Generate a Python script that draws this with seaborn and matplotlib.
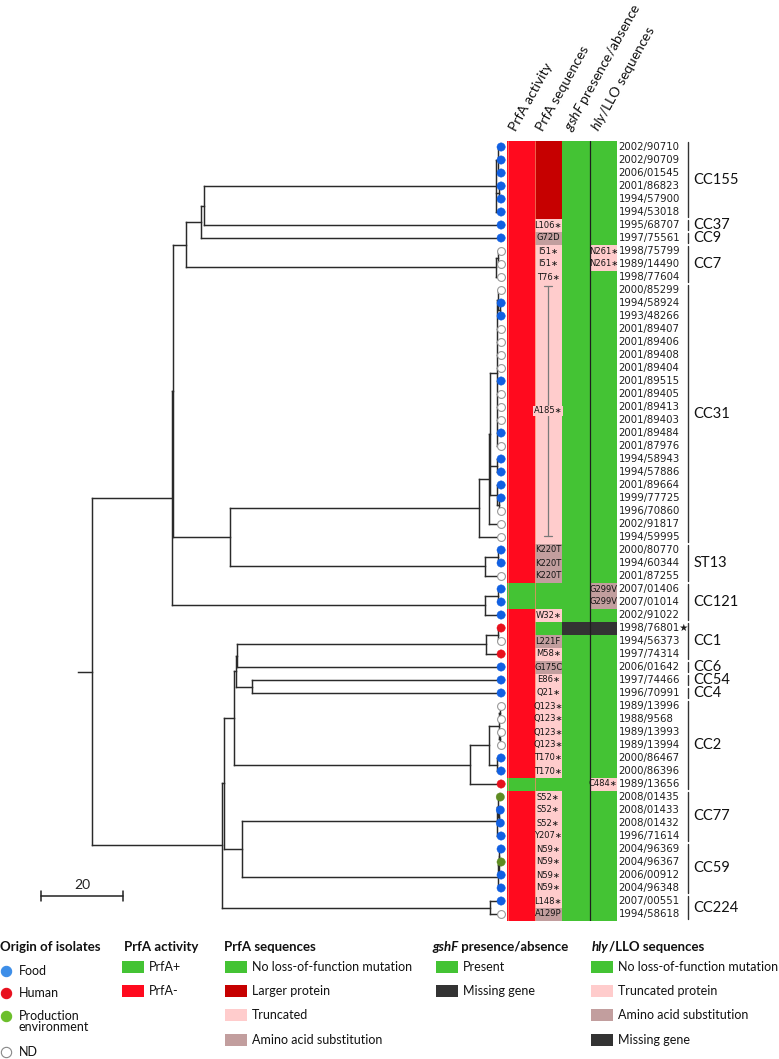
import numpy as np
import pandas as pd
import matplotlib
matplotlib.use("Agg")
import matplotlib.pyplot as plt
import seaborn as sns
from matplotlib.colors import ListedColormap
from matplotlib.collections import LineCollection
from matplotlib.patches import Rectangle

# ------------------------------------------------------------------ data
# Newick clades (branch lengths, scale bar = 20)
cc155 = "((2002/90710:0.7,2002/90709:0.7,2006/01545:0.7):0.5,(2001/86823:0.6,1994/57900:0.6):0.6,1994/53018:1.2)"
cc7 = "((1998/75799:0.7,1989/14490:0.7):0.5,1998/77604:1.2)"
cc31 = ("(((((2000/85299:0.7,(1994/58924:0.3,1993/48266:0.3):0.4):0.3,2001/89407:1.0,2001/89406:1.0,"
        "2001/89408:1.0,2001/89404:1.0,2001/89515:1.0,2001/89405:1.0,2001/89413:1.0,2001/89403:1.0,"
        "2001/89484:1.0,2001/87976:1.0):1.7,(1994/58943:1.0,1994/57886:1.0):1.7,"
        "(2001/89664:1.0,(1999/77725:0.5,1996/70860:0.5):0.5):1.7):0.3,2002/91817:3.0):2.4,1994/59995:5.4)")
st13 = "((2000/80770:0.8,1994/60344:0.8):3.1,2001/87255:3.9)"
cc121 = "((2007/01406:0.8,2007/01014:0.8):3.1,2002/91022:3.9)"
cc1 = "((1998/76801:0.8,1994/56373:0.8):2.9,1997/74314:3.7)"
cc54_4 = "(1997/74466:60.8,1996/70991:60.8)"
cc2 = ("((((1989/13996:0.3,1988/9568:0.3):0.2,(1989/13993:0.3,1989/13994:0.3):0.2):2.5,"
       "(2000/86467:1.0,2000/86396:1.0):2.0):4.6,1989/13656:7.6)")
cc77 = "((2008/01435:0.5,(2008/01433:0.3,2008/01432:0.3):0.2):0.3,1996/71614:1.0)"
cc59 = "(((2004/96369:0.4,2004/96367:0.4):0.2,2006/00912:0.6):0.2,2004/96348:0.8)"
cc224 = "(2007/00551:2.7,1994/58618:2.7)"

b2 = f"({cc155}:71.3,1995/68707:72.5)"
b1 = f"({b2}:0.7,1997/75561:73.2)"
b = f"({b1}:3.7,{cc7}:75.7)"
c = f"({cc31}:60.7,{st13}:62.2)"
x_ = f"({b}:3.1,{c}:13.9)"
a = f"({x_}:0.3,{cc121}:76.4)"
l4 = f"({cc1}:60.7,2006/01642:64.4)"
l3 = f"({l4}:0.3,{cc54_4}:3.9)"
l2 = f"({l3}:0.5,{cc2}:57.6)"
cc77_59 = f"({cc77}:62.2,{cc59}:62.4)"
l1 = f"({l2}:2.4,{cc77_59}:4.4)"
l0 = f"({l1}:0.5,{cc224}:65.4)"
newick = f"({a}:19.5,{l0}:31.7):3.4;"

starred = ["1998/76801"]

# origin of isolates, in tip order (F food, H human, P production env., N not determined)
origin = list("FFFFFF" "F" "F" "NNN"
              "NFFNNNNFNNNFNFFFFNNN"
              "FFN" "FFF" "HNH" "F" "F" "F"
              "NNNNFFH" "PFFF" "FPFF" "FN")

# PrfA activity (+/-)
prfa_activity = list("------" "-" "-" "---" "--------------------" "---" "++-" "---" "-" "-" "-"
                     "------+" "----" "----" "--")
# PrfA sequences: N no LOF, L larger protein, T truncated, S substitution
prfa_seq = list("LLLLLL" "T" "S" "TTT" "TTTTTTTTTTTTTTTTTTTT" "SSS" "NNT" "NST" "S" "T" "T"
                "TTTTTTN" "TTTT" "TTTT" "TS")
prfa_mut = (["", "", "", "", "", ""] + ["L106∗", "G72D", "I51∗", "I51∗", "T76∗"] + [""] * 20 +
            ["K220T", "K220T", "K220T", "", "", "W32∗", "", "L221F", "M58∗", "G175C", "E86∗", "Q21∗",
             "Q123∗", "Q123∗", "Q123∗", "Q123∗", "T170∗", "T170∗", "",
             "S52∗", "S52∗", "S52∗", "Y207∗", "N59∗", "N59∗", "N59∗", "N59∗", "L148∗", "A129P"])
prfa_range = ("A185∗", 11, 30)
# gshF: P present, M missing
gshf = list("PPPPPP" "P" "P" "PPP" "PPPPPPPPPPPPPPPPPPPP" "PPP" "PPP" "MPP" "P" "P" "P"
            "PPPPPPP" "PPPP" "PPPP" "PP")
# hly/LLO: N no LOF, T truncated, S substitution, M missing
hly = list("NNNNNN" "N" "N" "TTN" "NNNNNNNNNNNNNNNNNNNN" "NNN" "SSN" "MNN" "N" "N" "N"
           "NNNNNNT" "NNNN" "NNNN" "NN")
hly_mut = ([""] * 8 + ["N261∗", "N261∗"] + [""] * 24 + ["G299V", "G299V"] + [""] * 13 + ["C484∗"] + [""] * 10)

cc_names = ["CC155", "CC37", "CC9", "CC7", "CC31", "ST13", "CC121", "CC1", "CC6", "CC54", "CC4",
            "CC2", "CC77", "CC59", "CC224"]
cc_sizes = [6, 1, 1, 3, 20, 3, 3, 3, 1, 1, 1, 7, 4, 4, 2]

col_titles = ["PrfA activity", "PrfA sequences", r"$\mathit{gshF}$ presence/absence",
              r"$\mathit{hly}$/LLO sequences"]

# ------------------------------------------------------------------ style
sns.set_theme(style="white")
plt.rcParams["font.family"] = ["Lato", "DejaVu Sans"]
plt.rcParams["mathtext.fontset"] = "custom"
plt.rcParams["mathtext.it"] = "Lato:italic"
plt.rcParams["mathtext.rm"] = "Lato"

GREEN, RED, DRED, PINK, ROSY, DARK = "#44C334", "#FF0A1E", "#C60000", "#FFCCCC", "#C29E9E", "#333333"
tip_pal = {"F": "#1160E2", "H": "#E8101C", "P": "#5E8C22"}

W, H = 779, 1059
fig = plt.figure(figsize=(W / 100, H / 100), dpi=100)


def px_axes(x0, x1, y0, y1):
    return fig.add_axes([x0 / W, 1 - y1 / H, (x1 - x0) / W, (y1 - y0) / H])


ROW0, ROWH = 147.0, 13.0
top, bot = ROW0 - ROWH / 2, ROW0 + ROWH * 59.5
PXU = 4.1  # pixels per tree unit
X0PX = 78.0

# ------------------------------------------------------------------ tree
def parse_newick(s):
    s = s.strip().rstrip(";")
    pos = 0

    def node():
        nonlocal pos
        n = {"children": [], "name": "", "length": 0.0}
        if s[pos] == "(":
            pos += 1
            while True:
                n["children"].append(node())
                if s[pos] == ",":
                    pos += 1
                    continue
                if s[pos] == ")":
                    pos += 1
                    break
        st = pos
        while pos < len(s) and s[pos] not in ",():":
            pos += 1
        n["name"] = s[st:pos]
        if pos < len(s) and s[pos] == ":":
            pos += 1
            st = pos
            while pos < len(s) and s[pos] not in ",()":
                pos += 1
            n["length"] = float(s[st:pos])
        return n

    return node()


root = parse_newick(newick)
tips, segs = [], []


def layout(n, x0):
    n["x"] = x0 + n["length"]
    if not n["children"]:
        n["y"] = len(tips)
        tips.append(n)
    else:
        for ch in n["children"]:
            layout(ch, n["x"])
        n["y"] = (n["children"][0]["y"] + n["children"][-1]["y"]) / 2
        segs.append([(n["x"], n["children"][0]["y"]), (n["x"], n["children"][-1]["y"])])
    segs.append([(x0, n["y"]), (n["x"], n["y"])])


layout(root, 0.0)
nrow = len(tips)

ax_tree = px_axes(0, 512, top, bot)
ax_tree.add_collection(LineCollection(segs, colors="#2A2A2A", linewidths=1.05, capstyle="projecting"))

tip_df = pd.DataFrame({"depth": [t["x"] for t in tips], "row": [t["y"] for t in tips],
                       "origin": origin[:nrow]})
filled = tip_df[tip_df.origin != "N"]
nd = tip_df[tip_df.origin == "N"]
sns.scatterplot(data=filled, x="depth", y="row", hue="origin", palette=tip_pal, s=36,
                edgecolor="face", linewidth=0.3, legend=False, ax=ax_tree, zorder=3)
sns.scatterplot(data=nd, x="depth", y="row", color="white", s=32, edgecolor="#9A9A9A",
                linewidth=0.8, legend=False, ax=ax_tree, zorder=3)

# scale bar (20 units)
sb_x0 = (41 - X0PX) / PXU
sb_y = (896 - ROW0) / ROWH
ax_tree.plot([sb_x0, sb_x0 + 20], [sb_y, sb_y], color="#222", lw=1.1)
for xx in (sb_x0, sb_x0 + 20):
    ax_tree.plot([xx, xx], [sb_y - 0.4, sb_y + 0.4], color="#222", lw=1.1)
ax_tree.text(sb_x0 + 10, sb_y - 0.85, "20", ha="center", va="center", fontsize=10, color="#222")

ax_tree.set_xlim(-X0PX / PXU, (512 - X0PX) / PXU)
ax_tree.set_ylim(59.5, -0.5)
ax_tree.axis("off")

# ------------------------------------------------------------------ matrix
act_code = {"+": 0, "-": 1}
seq_code = {"N": 0, "L": 2, "T": 3, "S": 4}
gsh_code = {"P": 0, "M": 5}
hly_code = {"N": 0, "T": 3, "S": 4, "M": 5}
codes = pd.DataFrame({
    "act": [act_code[v] for v in prfa_activity],
    "seq": [seq_code[v] for v in prfa_seq],
    "gsh": [gsh_code[v] for v in gshf],
    "hly": [hly_code[v] for v in hly],
})
annot = np.array([["", m, "", h] for m, h in zip(prfa_mut, hly_mut)], dtype=object)

ax_mat = px_axes(507, 617, top, bot)
sns.heatmap(codes, cmap=ListedColormap([GREEN, RED, DRED, PINK, ROSY, DARK]), vmin=-0.5, vmax=5.5,
            cbar=False, annot=annot, fmt="", xticklabels=False, yticklabels=False, linewidths=0,
            annot_kws={"fontsize": 6, "color": "#141414", "family": "DejaVu Sans"}, ax=ax_mat)
ax_mat.axvline(3, color="#1E1E1E", lw=0.9)
ax_mat.axvline(1, color="#FF8A6A", lw=0.5)
ax_mat.axvline(0.02, color="#FF8A6A", lw=0.5)

# A185* range
lab, r0, r1 = prfa_range
ya, yb = r0 + 0.2, r1 + 0.4
ax_mat.plot([1.5, 1.5], [ya, yb], color="#7A7A7A", lw=0.9)
for yy in (ya, yb):
    ax_mat.plot([1.35, 1.65], [yy, yy], color="#7A7A7A", lw=0.9)
ax_mat.text(1.5, (ya + yb) / 2, lab, ha="center", va="center", fontsize=6, family="DejaVu Sans",
            color="#141414", bbox=dict(fc=PINK, ec="none", pad=0.6))

for ci, title in enumerate(col_titles):
    ax_mat.text(ci + 0.33, -0.65, title, rotation=61, rotation_mode="anchor", ha="left",
                va="baseline", fontsize=10, color="#111", clip_on=False)
ax_mat.set_xlabel("")
ax_mat.set_ylabel("")

# ------------------------------------------------------------------ labels
ax_lab = px_axes(617, 779, top, bot)
ax_lab.set_xlim(617, 779)
ax_lab.set_ylim(59.5, -0.5)
ax_lab.axis("off")
for t in tips:
    name = t["name"] + ("★" if t["name"] in starred else "")
    ax_lab.text(618.5, t["y"], name, ha="left", va="center", fontsize=7.3, family="DejaVu Sans",
                color="#1E1E1E")
start = 0
for name, size in zip(cc_names, cc_sizes):
    r_first, r_last = start, start + size - 1
    ax_lab.plot([688, 688], [r_first - 0.35, r_last + 0.35], color="#333", lw=1.0)
    ax_lab.text(693.5, (r_first + r_last) / 2, name, ha="left", va="center", fontsize=10.5, color="#111")
    start += size

# ------------------------------------------------------------------ legend
ax_ov = px_axes(0, W, 0, H)
ax_ov.set_xlim(0, W)
ax_ov.set_ylim(H, 0)
ax_ov.axis("off")
ax_ov.patch.set_alpha(0)

HY = 947
hdr_kw = dict(fontsize=9.5, fontweight="bold", va="center", ha="left", color="#111")
itm_kw = dict(fontsize=9, va="center", ha="left", color="#111")
ax_ov.text(0.5, HY, "Origin of isolates", **hdr_kw)
ax_ov.text(124, HY, "PrfA activity", **hdr_kw)
ax_ov.text(224, HY, "PrfA sequences", **hdr_kw)
t1 = ax_ov.text(432, HY, "gshF", style="italic", **hdr_kw)
ax_ov.annotate(" presence/absence", xy=(1, 0), xycoords=t1, ha="left", va="bottom",
               fontsize=9.5, fontweight="bold", color="#111")
t2 = ax_ov.text(592, HY, "hly", style="italic", **hdr_kw)
ax_ov.annotate("/LLO sequences", xy=(1, 0), xycoords=t2, ha="left", va="bottom",
               fontsize=9.5, fontweight="bold", color="#111")

leg_origin = [("Food", "#3D8EE8", 971), ("Human", "#E8101E", 993),
              ("Production", "#6CBF2B", 1016), ("ND", "white", 1052)]
for lab_, col, yy in leg_origin:
    ax_ov.scatter([6], [yy], s=55, c=[col], edgecolors="#888" if col == "white" else col,
                  linewidths=0.8, zorder=3)
    ax_ov.text(19, yy, lab_, **itm_kw)
ax_ov.text(19, 1027, "environment", **itm_kw)


def swatches(x0, items):
    for lab_, col, yy in items:
        ax_ov.add_patch(Rectangle((x0, yy - 6), 22, 12, fc=col, ec="none"))
        ax_ov.text(x0 + 27, yy, lab_, **itm_kw)


swatches(122, [("PrfA+", GREEN, 967), ("PrfA-", RED, 991)])
swatches(225, [("No loss-of-function mutation", GREEN, 967), ("Larger protein", DRED, 991),
               ("Truncated", PINK, 1015), ("Amino acid substitution", ROSY, 1040)])
swatches(436, [("Present", GREEN, 967), ("Missing gene", DARK, 991)])
swatches(591, [("No loss-of-function mutation", GREEN, 967), ("Truncated protein", PINK, 991),
               ("Amino acid substitution", ROSY, 1015), ("Missing gene", DARK, 1040)])

fig.savefig("out.png", dpi=100)
